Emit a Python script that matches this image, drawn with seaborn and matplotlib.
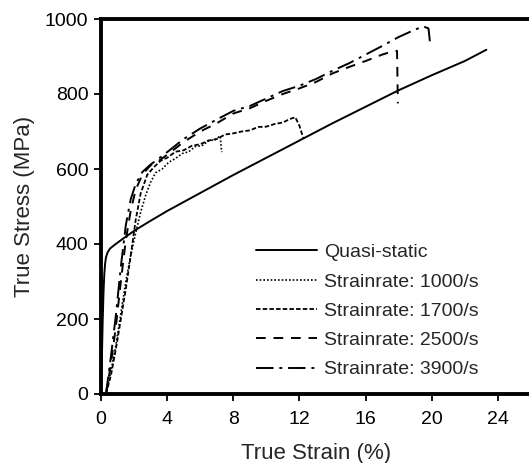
import numpy as np
import pandas as pd
import matplotlib
matplotlib.use("Agg")
import matplotlib.pyplot as plt
import seaborn as sns

# ---- data ----
qs_strain = [0, 0.05, 0.1, 0.15, 0.2, 0.25, 0.3, 0.4, 0.55, 0.8, 1.2, 2, 3, 4, 5, 6, 8, 10, 12, 14, 16, 18, 20, 22, 23.3]
qs_stress = [0, 90, 190, 270, 320, 348, 364, 378, 388, 397, 410, 435, 462, 488, 512, 536, 584, 630, 676, 722, 766, 810, 850, 888, 918]

sr1000_strain = [0.3, 0.6, 0.9, 1.2, 1.5, 1.8, 2.1, 2.4, 2.7, 3.0, 3.3, 3.7, 4.1, 4.5, 4.9, 5.3, 5.7, 6.1, 6.5, 6.9, 7.2, 7.3]
sr1000_stress = [0, 60, 130, 215, 300, 370, 430, 485, 530, 565, 590, 600, 618, 628, 641, 646, 660, 662, 675, 678, 688, 645]

sr1700_strain = [0.3, 0.6, 0.9, 1.2, 1.5, 1.8, 2.1, 2.4, 2.8, 3.2, 3.6, 4.0, 4.5, 5.0, 5.5, 6.0, 6.5, 7.0, 7.5, 8.0, 8.5, 9.0, 9.5, 10.0, 10.5, 11.0, 11.4, 11.75, 12.0, 12.25]
sr1700_stress = [0, 50, 120, 200, 280, 370, 465, 535, 585, 605, 622, 630, 646, 650, 662, 666, 676, 680, 692, 695, 700, 703, 712, 713, 720, 724, 733, 738, 715, 680]

sr2500_strain = [0.3, 0.6, 0.9, 1.2, 1.5, 1.8, 2.1, 2.5, 3.0, 3.5, 4.0, 5.0, 6.0, 7.0, 8.0, 9.0, 10.0, 11.0, 12.0, 13.0, 14.0, 15.0, 16.0, 17.0, 17.5, 17.9, 17.95]
sr2500_stress = [0, 80, 180, 300, 410, 490, 545, 585, 610, 622, 638, 672, 700, 722, 748, 762, 782, 800, 815, 832, 855, 872, 888, 905, 912, 915, 775]

sr3900_strain = [0.3, 0.6, 0.9, 1.2, 1.5, 1.8, 2.1, 2.5, 3.0, 3.5, 4.0, 5.0, 6.0, 7.0, 8.0, 9.0, 10.0, 11.0, 12.0, 13.0, 14.0, 15.0, 16.0, 17.0, 18.0, 19.0, 19.5, 19.8, 19.9]
sr3900_stress = [0, 100, 210, 340, 450, 520, 560, 592, 612, 628, 645, 680, 708, 732, 755, 768, 788, 808, 822, 840, 862, 882, 905, 928, 952, 972, 980, 975, 935]

labels = ["Quasi-static", "Strainrate: 1000/s", "Strainrate: 1700/s",
          "Strainrate: 2500/s", "Strainrate: 3900/s"]
strains = [qs_strain, sr1000_strain, sr1700_strain, sr2500_strain, sr3900_strain]
stresses = [qs_stress, sr1000_stress, sr1700_stress, sr2500_stress, sr3900_stress]

x_ticks = [0, 4, 8, 12, 16, 20, 24]
y_ticks = [0, 200, 400, 600, 800, 1000]

frames = []
for lab, sx, sy in zip(labels, strains, stresses):
    frames.append(pd.DataFrame({"strain": sx, "stress": sy, "series": lab,
                                "order": np.arange(len(sx))}))
df = pd.concat(frames, ignore_index=True)

sns.set_theme(style="ticks")
plt.rcParams["font.family"] = ["Liberation Sans", "DejaVu Sans"]

fig = plt.figure(figsize=(5.29, 4.63), dpi=100)
ax = fig.add_axes([101 / 529, 1 - 394 / 463, 430 / 529, (394 - 19) / 463])

dashes = {
    labels[0]: "",
    labels[1]: (1.0, 1.2),
    labels[2]: (2.5, 1.2),
    labels[3]: (5, 4),
    labels[4]: (9, 3, 1.5, 3),
}
widths = {labels[0]: 1.4, labels[1]: 1.2, labels[2]: 1.3, labels[3]: 1.4, labels[4]: 1.4}

handles = []
for lab in labels:
    sub = df[df["series"] == lab]
    sns.lineplot(data=sub, x="strain", y="stress", sort=False, estimator=None,
                 color="black", linewidth=widths[lab], ax=ax, legend=False)
    ln = ax.get_lines()[-1]
    if dashes[lab]:
        ln.set_dashes(dashes[lab])
    ln.set_label(lab)
    handles.append(ln)

ax.set_xlim(0, 26)
ax.set_ylim(0, 1000)
ax.set_xticks(x_ticks)
ax.set_yticks(y_ticks)
ax.set_xlabel("True Strain (%)", fontsize=16, labelpad=11)
ax.set_ylabel("True Stress (MPa)", fontsize=16, labelpad=7)
ax.tick_params(axis="both", labelsize=14, direction="out", length=5, width=1.3,
               colors="black")
ax.tick_params(axis="x", pad=7)
ax.tick_params(axis="y", pad=4)
for sp in ax.spines.values():
    sp.set_visible(True)
    sp.set_linewidth(2.8)
    sp.set_color("black")

leg = ax.legend(handles=handles, labels=labels, loc="center left",
                bbox_to_anchor=((256 - 101) / 430, (394 - 311) / 375),
                frameon=False, fontsize=14, handlelength=3.15, handletextpad=0.35,
                labelspacing=0.6, borderpad=0, borderaxespad=0)

fig.savefig("out.png", dpi=100)
